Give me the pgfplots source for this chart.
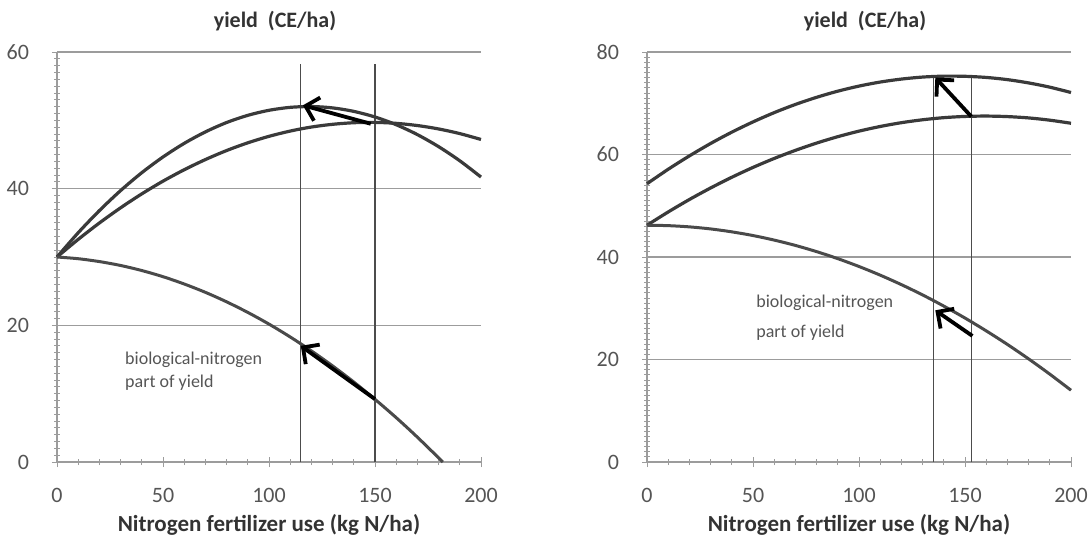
\documentclass[border=0pt]{standalone}
\usepackage{fontspec}
\setmainfont{Carlito}
\usepackage{pgfplots}
\pgfplotsset{compat=1.18}
\usetikzlibrary{arrows.meta}

\definecolor{curvec}{HTML}{3A3A3A}
\definecolor{biocol}{HTML}{4A4A4A}
\definecolor{gridc}{HTML}{9C9C9C}
\definecolor{tickc}{HTML}{555555}
\definecolor{vlinec}{HTML}{4C4C4C}

\tikzset{
  note/.style={anchor=west, font=\fontsize{9}{10}\selectfont, text=tickc, inner sep=0pt},
}

\pgfplotsset{
  yieldpanel/.style={
    scale only axis, width=212pt, height=205pt,
    xmin=0, xmax=200, ymin=0,
    axis x line=bottom, axis y line=left,
    axis line style={-, draw=gridc, line width=0.7pt},
    xtick={0,50,...,200}, minor x tick num=4,
    minor y tick num=19,
    tick align=center, major tick length=5pt, minor tick length=3pt,
    tick style={draw=gridc, line width=0.5pt},
    ymajorgrids, grid style={draw=gridc, line width=0.8pt},
    /pgf/number format/assume math mode=true,
    tick label style={font=\fontsize{11}{13}\selectfont, text=tickc},
    xticklabel style={anchor=base, yshift=-17.5pt},
    yticklabel style={anchor=east, xshift=-8pt},
    title={\textbf{yield\ \ (CE/ha)}},
    title style={at={(0.5,1)}, anchor=base, yshift=6.5pt, xshift=3pt,
      font=\fontsize{11}{13}\selectfont, text=black!80},
    xlabel={\textbf{Nitrogen fertilizer use (kg N/ha)}},
    xlabel style={at={(0.5,0)}, anchor=base, yshift=-34.5pt,
      font=\fontsize{11.5}{13}\selectfont, text=black!80},
    clip=false,
  },
  yc/.style={draw=curvec, line width=1.6pt, smooth, no marks},
  bio/.style={draw=biocol, line width=1.5pt, smooth, no marks},
  vl/.style={draw=vlinec, line width=0.6pt, no marks},
  arr/.style={draw=black, line width=1.9pt, no marks,
    -{Straight Barb[length=6pt,width=12pt,line width=1.9pt]}},
}

\begin{document}
\begin{tikzpicture}
\useasboundingbox (-28.5pt,-37.5pt) rectangle (516pt,231pt);

% left panel
\begin{axis}[yieldpanel, ymax=60, ytick={0,20,40,60}]
\addplot[vl] coordinates {(115,0) (115,58.3)};
\addplot[vl] coordinates {(150,0) (150,58.3)};
% peaked curve
\addplot[yc] coordinates {
(0,30) (10,33.55) (20,36.79) (30,39.72) (40,42.34) (50,44.64) (60,46.63)
(70,48.31) (80,49.68) (90,50.73) (100,51.47) (110,51.90) (120,52.02)
(130,51.82) (140,51.31) (150,50.49) (160,49.36) (170,47.91) (180,46.15)
(190,44.08) (200,41.70)};
% flatter curve
\addplot[yc] coordinates {
(0,30) (10,32.58) (20,34.98) (30,37.20) (40,39.24) (50,41.10) (60,42.77)
(70,44.26) (80,45.58) (90,46.71) (100,47.66) (110,48.43) (120,49.02)
(130,49.42) (140,49.65) (150,49.70) (160,49.56) (170,49.24) (180,48.74)
(190,48.06) (200,47.20)};
% biological-nitrogen part
\addplot[bio] coordinates {
(0,30) (10,29.75) (20,29.33) (30,28.76) (40,28.02) (50,27.12) (60,26.05)
(70,24.83) (80,23.44) (90,21.89) (100,20.18) (110,18.30) (120,16.26)
(130,14.06) (140,11.70) (150,9.17) (160,6.49) (170,3.63) (182,0)};
\addplot[arr] coordinates {(148,49.5) (116,52.2)};
\addplot[arr] coordinates {(150,9.2) (115,17.0)};
\node[note] at (axis cs:32,14.9) {biological-nitrogen};
\node[note] at (axis cs:32,11.6) {part of yield};
\end{axis}

% right panel
\begin{axis}[yieldpanel, at={(295pt,0pt)}, ymax=80, ytick={0,20,40,60,80}]
\addplot[vl] coordinates {(135,0) (135,75.3)};
\addplot[vl] coordinates {(153,0) (153,75.3)};
\addplot[yc] coordinates {
(0,54.3) (10,57.12) (20,59.73) (30,62.15) (40,64.36) (50,66.36) (60,68.17)
(70,69.77) (80,71.16) (90,72.36) (100,73.35) (110,74.14) (120,74.72)
(130,75.11) (140,75.29) (150,75.26) (160,75.04) (170,74.61) (180,73.97)
(190,73.14) (200,72.10)};
\addplot[yc] coordinates {
(0,46.2) (10,48.79) (20,51.22) (30,53.47) (40,55.56) (50,57.48) (60,59.23)
(70,60.81) (80,62.23) (90,63.48) (100,64.56) (110,65.47) (120,66.21)
(130,66.78) (140,67.19) (150,67.43) (160,67.50) (170,67.40) (180,67.14)
(190,66.70) (200,66.10)};
\addplot[bio] coordinates {
(0,46.2) (10,46.12) (20,45.88) (30,45.48) (40,44.91) (50,44.19) (60,43.30)
(70,42.26) (80,41.05) (90,39.68) (100,38.15) (110,36.46) (120,34.61)
(130,32.60) (140,30.42) (150,28.09) (160,25.59) (170,22.94) (180,20.12)
(190,17.14) (200,14.00)};
\addplot[arr] coordinates {(153,67.4) (136,75.0)};
\addplot[arr] coordinates {(153.5,24.6) (136,29.6)};
\node[note] at (axis cs:51.4,31.1) {biological-nitrogen};
\node[note] at (axis cs:51.4,25.3) {part of yield};
\end{axis}
\end{tikzpicture}
\end{document}
